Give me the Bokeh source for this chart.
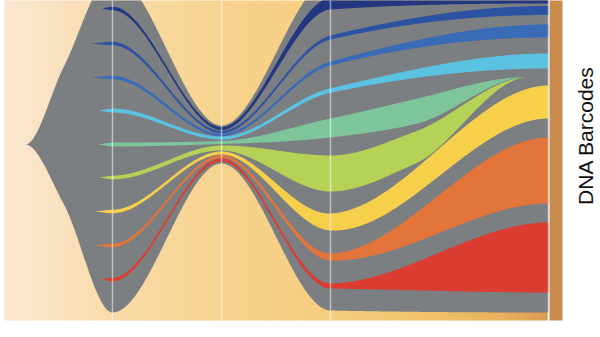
import math
import numpy as np
from bokeh.plotting import figure
from bokeh.models import Range1d
from bokeh.core.properties import value
from bokeh.embed import file_html
from bokeh.resources import INLINE

# ---------------- data ----------------
# time axis: sampling points 1, 2, 3, 5 ; whole population grows from a single cell at t=0.2
sampling_times = [1, 2, 3, 5]

population_times = [0.2, 0.55, 1, 2, 3, 5]
population_top = [0, 77, 170, 19, 166, 174]
population_bottom = [0, -59, -168, -19, -166, -168]

barcode_names = ["bc1", "bc2", "bc3", "bc4", "bc5", "bc6", "bc7", "bc8", "bc9"]
barcode_colors = ["#22377F", "#2C52A2", "#3A6BB6", "#5CC2E2", "#7EC59B",
                  "#B6D256", "#F6D04A", "#E3743A", "#DA3C31"]
barcode_times = [
    [0.89, 1, 2, 3, 5],
    [0.78, 1, 2, 3, 5],
    [0.78, 1, 2, 3, 5],
    [0.86, 1, 2, 3, 5],
    [0.86, 1, 2, 3, 3.78, 4.81],
    [0.86, 1, 2, 3, 3.78, 4.81],
    [0.82, 1, 2, 3, 5],
    [0.80, 1, 2, 3, 5],
    [0.89, 1, 2, 3, 5],
]
barcode_center = [
    [136, 136, 16, 141, 150.5],
    [101, 101, 12.5, 107, 134],
    [67, 67, 9.5, 81, 113.5],
    [34, 34, 6.5, 54, 83.5],
    [0, 0, 2, 16.5, 33, 67.5],
    [-33, -33, -3.5, -29, -3, 67],
    [-67, -67, -8.5, -77.5, 42.5],
    [-101, -101, -12, -112.5, -26],
    [-135, -135, -15.5, -141.5, -113],
]
barcode_width = [
    [0, 3.5, 3, 12, 19],
    [0, 3.5, 2.5, 4, 9],
    [0, 3.5, 2.5, 4, 13],
    [0, 4, 3, 4.5, 15],
    [0, 4, 3, 19, 25, 0],
    [0, 3.5, 5, 36, 32, 0],
    [0, 3.5, 3, 17, 33],
    [0, 3.5, 3, 7, 66],
    [0, 3.5, 3, 5, 70],
]
axis_label = "DNA Barcodes"


# ---------------- helpers ----------------
def pchip(xs, ys, xq):
    xs = np.asarray(xs, float)
    ys = np.asarray(ys, float)
    xq = np.asarray(xq, float)
    h = np.diff(xs)
    m = np.diff(ys) / h
    n = len(xs)
    d = np.zeros(n)
    for k in range(1, n - 1):
        if m[k - 1] * m[k] > 0:
            w1 = 2 * h[k] + h[k - 1]
            w2 = h[k] + 2 * h[k - 1]
            d[k] = (w1 + w2) / (w1 / m[k - 1] + w2 / m[k])
    i = np.clip(np.searchsorted(xs, xq, side="right") - 1, 0, n - 2)
    s = (xq - xs[i]) / h[i]
    h00 = 2 * s**3 - 3 * s**2 + 1
    h10 = s**3 - 2 * s**2 + s
    h01 = -2 * s**3 + 3 * s**2
    h11 = s**3 - s**2
    return h00 * ys[i] + h10 * h[i] * d[i] + h01 * ys[i + 1] + h11 * h[i] * d[i + 1]


PX_PER_T = 109.0


def tx(px):
    return 1 + (px - 112) / PX_PER_T


def hex2rgb(c):
    c = c.lstrip("#")
    return [int(c[i:i + 2], 16) for i in (0, 2, 4)]


# ---------------- figure ----------------
W, H = 600, 337
y_top = 144
p = figure(width=W, height=H, output_backend="svg", toolbar_location=None,
           x_range=Range1d(tx(0), tx(W)), y_range=Range1d(y_top - H, y_top),
           x_axis_location=None, y_axis_location=None, min_border=0)
p.grid.visible = False
p.outline_line_color = None
p.background_fill_color = "white"
p.border_fill_color = "white"

bg_bottom = y_top - 320

# background gradient
stops_px = [3.5, 60, 112, 220, 330, 420, 500, 548.5]
stops_col = ["#FCE7D3", "#FAE1BE", "#F9DBA9", "#F7D38E", "#F5CD7F",
             "#F2C46D", "#E9B25C", "#DA9B52"]
stops_rgb = np.array([hex2rgb(c) for c in stops_col], float)
edges = np.arange(3.5, 548.5 + 0.01, 3.0)
lefts, rights, cols = [], [], []
for a, b in zip(edges[:-1], edges[1:]):
    mid = (a + b) / 2
    rgb = [np.interp(mid, stops_px, stops_rgb[:, k]) for k in range(3)]
    cols.append("#%02X%02X%02X" % tuple(int(round(v)) for v in rgb))
    lefts.append(tx(a))
    rights.append(tx(b + 0.8))
p.quad(left=lefts, right=rights, top=y_top + 5, bottom=bg_bottom,
       fill_color=cols, line_color=None)

# right-hand bar
p.quad(left=tx(549), right=tx(562), top=y_top + 5, bottom=bg_bottom,
       fill_color="#C98A4E", line_color=None)

# gray population envelope
tt = np.linspace(population_times[0], population_times[-1], 900)
top = pchip(population_times, population_top, tt)
bot = pchip(population_times, population_bottom, tt)
p.patch(x=list(tt) + list(tt[::-1]), y=list(top) + list(bot[::-1]),
        fill_color="#7C7F82", line_color=None)

# barcode lineages
for times, cen, wid, col in zip(barcode_times, barcode_center, barcode_width, barcode_colors):
    ts = np.linspace(times[0], times[-1], 700)
    c = pchip(times, cen, ts)
    w = np.maximum(pchip(times, wid, ts), 0)
    up = c + w / 2
    lo = c - w / 2
    p.patch(x=list(ts) + list(ts[::-1]), y=list(up) + list(lo[::-1]),
            fill_color=col, line_color=None)

# sampling time lines
p.segment(x0=sampling_times, x1=sampling_times, y0=[y_top + 5] * len(sampling_times),
          y1=[bg_bottom] * len(sampling_times), line_color="white", line_alpha=0.5,
          line_width=1.5)

# label
p.text(x=[tx(585)], y=[y_top - 135], text=[axis_label], angle=math.pi / 2,
       text_font=value("Liberation Sans"), text_font_size="21px",
       text_align="center", text_baseline="middle", text_color="#111111")

open("out.html", "w").write(file_html(p, INLINE))
